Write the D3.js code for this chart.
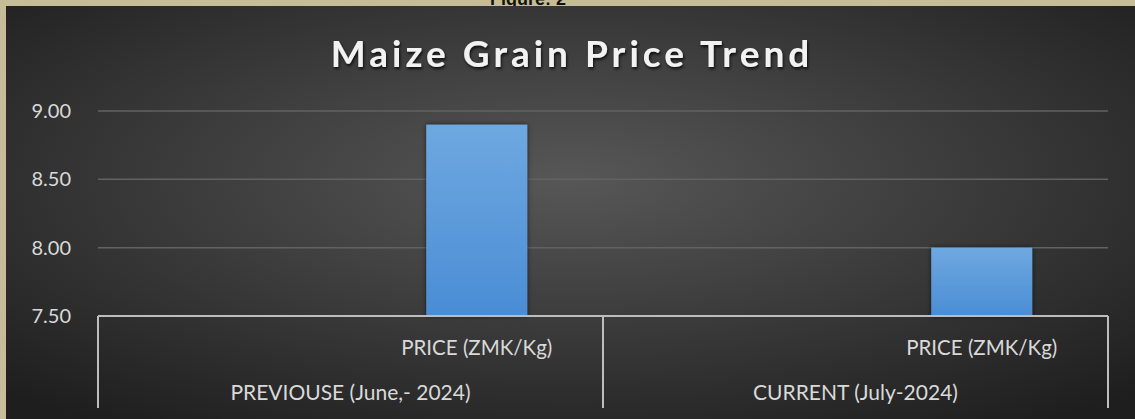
<!DOCTYPE html>
<html>
<head>
<meta charset="utf-8">
<script src="https://cdn.jsdelivr.net/npm/d3@7"></script>
<style>
  html, body { margin: 0; padding: 0; background: #c6bd98; }
  svg { display: block; }
</style>
</head>
<body>
<div id="chart"></div>
<script>
// data
const groups = ["PREVIOUSE (June,- 2024)", "CURRENT (July-2024)"];
const innerLabels = ["", "PRICE (ZMK/Kg)", "", "PRICE (ZMK/Kg)"];
const prices = [null, 8.90, null, 8.00];
const yTicks = [7.5, 8.0, 8.5, 9.0];

const width = 1135, height = 419;
const margin = {left: 98, right: 27, top: 111, bottom: 103};

const svg = d3.select("#chart").append("svg")
    .attr("width", width)
    .attr("height", height);

const defs = svg.append("defs");

const bg = defs.append("radialGradient")
    .attr("id", "bg")
    .attr("cx", "50%").attr("cy", "42%").attr("r", "72%");
bg.append("stop").attr("offset", "0%").attr("stop-color", "#575757");
bg.append("stop").attr("offset", "100%").attr("stop-color", "#1e1e1e");

const barGrad = defs.append("linearGradient")
    .attr("id", "bar")
    .attr("x1", 0).attr("y1", 0).attr("x2", 0).attr("y2", 1);
barGrad.append("stop").attr("offset", "0%").attr("stop-color", "#6ea8e0");
barGrad.append("stop").attr("offset", "100%").attr("stop-color", "#4a8dd5");

const shadow = defs.append("filter").attr("id", "shadow")
    .attr("x", "-20%").attr("y", "-20%").attr("width", "140%").attr("height", "140%");
shadow.append("feDropShadow")
    .attr("dx", 0).attr("dy", 0).attr("stdDeviation", 2.5)
    .attr("flood-color", "#000").attr("flood-opacity", 0.6);

const titleShadow = defs.append("filter").attr("id", "tshadow");
titleShadow.append("feDropShadow")
    .attr("dx", 1).attr("dy", 2).attr("stdDeviation", 1.5)
    .attr("flood-color", "#000").attr("flood-opacity", 0.8);

// caption above the panel, only its lower edge shows (as in the source)
svg.append("text")
    .attr("x", 528).attr("y", 5)
    .attr("text-anchor", "middle")
    .attr("font-family", "Liberation Sans, Arial, sans-serif")
    .attr("font-weight", "bold")
    .attr("font-size", 18)
    .attr("fill", "#111")
    .text("Figure: 2");

svg.append("rect")
    .attr("x", 6).attr("y", 6)
    .attr("width", width - 6).attr("height", height - 6)
    .attr("fill", "url(#bg)");

svg.append("text")
    .attr("x", 572).attr("y", 67)
    .attr("text-anchor", "middle")
    .attr("font-family", "Lato, 'Open Sans', sans-serif")
    .attr("font-weight", "bold")
    .attr("font-size", 37)
    .attr("letter-spacing", 4)
    .attr("fill", "#f2f2f2")
    .attr("filter", "url(#tshadow)")
    .text("Maize Grain Price Trend");

const x = d3.scaleBand()
    .domain(d3.range(innerLabels.length))
    .range([margin.left, width - margin.right])
    .paddingInner(0.6)
    .paddingOuter(0.3);

const y = d3.scaleLinear()
    .domain([7.5, 9.0])
    .range([height - margin.bottom, margin.top]);

const font = "Lato, 'Open Sans', sans-serif";

// gridlines
svg.append("g")
    .selectAll("line")
    .data(yTicks.slice(1))
    .join("line")
    .attr("x1", margin.left).attr("x2", width - margin.right)
    .attr("y1", d => y(d)).attr("y2", d => y(d))
    .attr("stroke", "#626262")
    .attr("stroke-width", 1.5);

// y labels
svg.append("g")
    .selectAll("text")
    .data(yTicks)
    .join("text")
    .attr("x", 71)
    .attr("y", d => y(d))
    .attr("dy", "0.35em")
    .attr("text-anchor", "end")
    .attr("font-family", font)
    .attr("font-size", 20)
    .attr("fill", "#d9d9d9")
    .text(d => d3.format(".2f")(d));

// bars
svg.append("g")
    .selectAll("rect")
    .data(prices.map((v, i) => ({v, i})).filter(d => d.v != null))
    .join("rect")
    .attr("x", d => x(d.i))
    .attr("width", x.bandwidth())
    .attr("y", d => y(d.v))
    .attr("height", d => y(7.5) - y(d.v))
    .attr("fill", "url(#bar)")
    .attr("filter", "url(#shadow)");

// category axis
const axisY = y(7.5);
const axisBottom = 408;
const axis = svg.append("g")
    .attr("stroke", "#bdbdbd")
    .attr("stroke-width", 2)
    .attr("fill", "none");

axis.append("line")
    .attr("x1", margin.left).attr("x2", width - margin.right)
    .attr("y1", axisY).attr("y2", axisY);

const groupEdges = [margin.left, (margin.left + width - margin.right) / 2, width - margin.right];
axis.selectAll("line.sep")
    .data(groupEdges)
    .join("line")
    .attr("class", "sep")
    .attr("x1", d => d).attr("x2", d => d)
    .attr("y1", axisY).attr("y2", axisBottom);

svg.append("g")
    .selectAll("text")
    .data(innerLabels.map((t, i) => ({t, i})))
    .join("text")
    .attr("x", d => x(d.i) + x.bandwidth() / 2)
    .attr("y", 355)
    .attr("text-anchor", "middle")
    .attr("font-family", font)
    .attr("font-size", 20.5)
    .attr("fill", "#d9d9d9")
    .text(d => d.t);

const groupW = (width - margin.right - margin.left) / groups.length;
svg.append("g")
    .selectAll("text")
    .data(groups)
    .join("text")
    .attr("x", (d, i) => margin.left + groupW * (i + 0.5))
    .attr("y", 400)
    .attr("text-anchor", "middle")
    .attr("font-family", font)
    .attr("font-size", 21)
    .attr("fill", "#d9d9d9")
    .text(d => d);
</script>
</body>
</html>
